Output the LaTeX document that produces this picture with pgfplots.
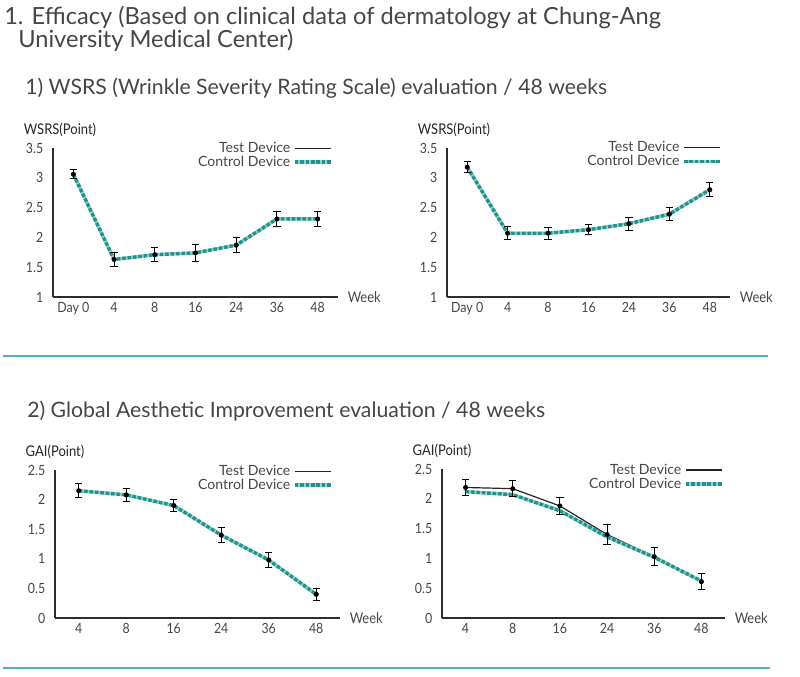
\documentclass[border=0pt]{standalone}
\usepackage{pgfplots}
\pgfplotsset{compat=1.18}
\usepackage{pgfplotstable}
\usepackage{fontspec}
\setmainfont{Lato}
\newfontfamily\condfont[FakeStretch=0.88]{Lato}
\newcommand{\pxu}{0.25mm}
\definecolor{txt}{RGB}{70,70,70}
\definecolor{axisgray}{RGB}{45,45,45}
\definecolor{ctrllight}{RGB}{140,210,205}
\definecolor{ctrldark}{RGB}{35,145,140}
\definecolor{sepline}{RGB}{85,178,188}

% WSRS left
\pgfplotstableread{
x y e
0 3.06 0.08
1 1.63 0.12
2 1.71 0.12
3 1.74 0.14
4 1.87 0.13
5 2.31 0.13
6 2.31 0.13
}\wsrsAtest
\pgfplotstableread{
x y
0 3.06
1 1.63
2 1.71
3 1.74
4 1.87
5 2.31
6 2.31
}\wsrsActrl
% WSRS right
\pgfplotstableread{
x y e
0 3.18 0.09
1 2.07 0.11
2 2.07 0.10
3 2.13 0.08
4 2.23 0.11
5 2.39 0.11
6 2.80 0.12
}\wsrsBtest
\pgfplotstableread{
x y
0 3.18
1 2.07
2 2.07
3 2.13
4 2.23
5 2.39
6 2.80
}\wsrsBctrl
% GAI left
\pgfplotstableread{
x y e
0 2.15 0.12
1 2.08 0.11
2 1.90 0.10
3 1.40 0.13
4 0.98 0.13
5 0.40 0.10
}\gaiAtest
\pgfplotstableread{
x y
0 2.15
1 2.08
2 1.90
3 1.40
4 0.98
5 0.40
}\gaiActrl
% GAI right
\pgfplotstableread{
x y e
0 2.19 0.14
1 2.17 0.13
2 1.88 0.14
3 1.40 0.17
4 1.03 0.15
5 0.61 0.14
}\gaiBtest
\pgfplotstableread{
x y
0 2.12
1 2.07
2 1.80
3 1.36
4 1.02
5 0.62
}\gaiBctrl

\tikzset{
  testline/.style={black!85, line width=0.3mm},
  ctrlunder/.style={ctrllight, line width=0.85mm},
  ctrlover/.style={ctrldark, line width=0.85mm, dash pattern=on 0.9mm off 0.45mm},
}
\pgfplotsset{
  testmarks/.style={only marks, mark=*, mark size=0.55mm, black,
    error bars/.cd, y dir=both, y explicit,
    error bar style={line width=0.25mm, black},
    error mark options={rotate=90, mark size=0.9mm, line width=0.25mm, black}},
  ctrllegend/.style={legend image code/.code={\draw[ctrlunder] (0cm,0cm)--(0.9cm,0cm); \draw[ctrlover] (0cm,0cm)--(0.9cm,0cm);}},
  panel/.style={
    scale only axis,
    axis lines=left,
    axis line style={line width=0.5mm, draw=axisgray, -},
    major tick length=0pt,
    tick style={draw=none},
    clip=false,
    ticklabel style={font=\condfont\fontsize{10}{11}\selectfont, text=txt},
    yticklabel style={xshift=-1.2mm},
    /pgf/number format/assume math mode=true,
    xlabel={Week},
    every axis x label/.style={at={(axis description cs:1,0)}, anchor=west, xshift=1.2mm,
      font=\condfont\fontsize{10.5}{11}\selectfont, text=txt},
    every axis y label/.style={at={(axis description cs:0,1)}, anchor=center, yshift=4.5mm,
      font=\condfont\fontsize{10.5}{11}\selectfont, text=black!85},
    legend image code/.code={\draw[##1] (0cm,0cm) -- (0.9cm,0cm);},
    legend cell align=right,
    legend plot pos=right,
    legend style={draw=none, fill=none, anchor=north east, font=\fontsize{10}{11}\selectfont,
      text=txt, inner sep=0pt, row sep=-3pt},
  },
}

\begin{document}
\begin{tikzpicture}
\begin{scope}[x=\pxu, y=-\pxu]
\useasboundingbox (0,0) rectangle (800,677);
\node[anchor=base west, inner sep=0pt, text=txt, font=\fontsize{16.8}{18}\selectfont] at (4,25) {1. Efficacy (Based on clinical data of dermatology at Chung-Ang};
\node[anchor=base west, inner sep=0pt, text=txt, font=\fontsize{16.8}{18}\selectfont] at (18,48) {University Medical Center)};
\node[anchor=base west, inner sep=0pt, text=txt, font=\fontsize{15.1}{17}\selectfont] at (25,95) {1) WSRS (Wrinkle Severity Rating Scale) evaluation / 48 weeks};
\node[anchor=base west, inner sep=0pt, text=txt, font=\fontsize{15.1}{17}\selectfont] at (27,418) {2) Global Aesthetic Improvement evaluation / 48 weeks};
\draw[sepline, line width=0.45mm] (3,356) -- (768,356);
\draw[sepline, line width=0.45mm] (3,668) -- (770,668);
\end{scope}

% Panel 1
\begin{axis}[panel, at={({53*\pxu},{-297*\pxu})}, anchor=south west,
  width={285*\pxu}, height={149*\pxu},
  xmin=-0.5, xmax=6.5, ymin=1, ymax=3.5,
  xtick={0,1,2,3,4,5,6}, xticklabels={Day 0,4,8,16,24,36,48},
  ytick={1,1.5,2,2.5,3,3.5},
  ylabel={WSRS(Point)}, every axis y label/.append style={xshift=1.75mm},
  legend style={at={(axis description cs:0.982,1.06)}}]
\addplot[forget plot, testline, no marks] table[x=x,y=y]{\wsrsAtest};
\addplot[forget plot, ctrlunder, no marks] table[x=x,y=y]{\wsrsActrl};
\addplot[forget plot, ctrlover, no marks] table[x=x,y=y]{\wsrsActrl};
\addplot[forget plot, testmarks] table[x=x,y=y,y error=e]{\wsrsAtest};
\addlegendimage{testline}
\addlegendimage{ctrllegend}
\legend{Test Device, Control Device}
\end{axis}

% Panel 2
\begin{axis}[panel, at={({447*\pxu},{-297*\pxu})}, anchor=south west,
  width={283*\pxu}, height={149*\pxu},
  xmin=-0.5, xmax=6.5, ymin=1, ymax=3.5,
  xtick={0,1,2,3,4,5,6}, xticklabels={Day 0,4,8,16,24,36,48},
  ytick={1,1.5,2,2.5,3,3.5},
  ylabel={WSRS(Point)}, every axis y label/.append style={xshift=1.75mm},
  legend style={at={(axis description cs:0.972,1.065)}}]
\addplot[forget plot, testline, no marks] table[x=x,y=y]{\wsrsBtest};
\addplot[forget plot, ctrlunder, no marks] table[x=x,y=y]{\wsrsBctrl};
\addplot[forget plot, ctrlover, no marks] table[x=x,y=y]{\wsrsBctrl};
\addplot[forget plot, testmarks] table[x=x,y=y,y error=e]{\wsrsBtest};
\addlegendimage{testline}
\addlegendimage{ctrllegend}
\legend{Test Device, Control Device}
\end{axis}

% Panel 3
\begin{axis}[panel, at={({55*\pxu},{-618*\pxu})}, anchor=south west,
  width={285*\pxu}, height={148*\pxu},
  xmin=-0.5, xmax=5.5, ymin=0, ymax=2.5,
  xtick={0,1,2,3,4,5}, xticklabels={4,8,16,24,36,48},
  ytick={0,0.5,1,1.5,2,2.5},
  ylabel={GAI(Point)},
  legend style={at={(axis description cs:0.975,1.055)}}]
\addplot[forget plot, testline, no marks] table[x=x,y=y]{\gaiAtest};
\addplot[forget plot, ctrlunder, no marks] table[x=x,y=y]{\gaiActrl};
\addplot[forget plot, ctrlover, no marks] table[x=x,y=y]{\gaiActrl};
\addplot[forget plot, testmarks] table[x=x,y=y,y error=e]{\gaiAtest};
\addlegendimage{testline}
\addlegendimage{ctrllegend}
\legend{Test Device, Control Device}
\end{axis}

% Panel 4
\begin{axis}[panel, at={({442*\pxu},{-618*\pxu})}, anchor=south west,
  width={283*\pxu}, height={149*\pxu},
  xmin=-0.5, xmax=5.5, ymin=0, ymax=2.5,
  xtick={0,1,2,3,4,5}, xticklabels={4,8,16,24,36,48},
  ytick={0,0.5,1,1.5,2,2.5},
  ylabel={GAI(Point)},
  legend style={at={(axis description cs:0.996,1.055)}}]
\addplot[forget plot, testline, no marks] table[x=x,y=y]{\gaiBtest};
\addplot[forget plot, ctrlunder, no marks] table[x=x,y=y]{\gaiBctrl};
\addplot[forget plot, ctrlover, no marks] table[x=x,y=y]{\gaiBctrl};
\addplot[forget plot, testmarks] table[x=x,y=y,y error=e]{\gaiBtest};
\addlegendimage{testline}
\addlegendimage{ctrllegend}
\legend{Test Device, Control Device}
\end{axis}
\end{tikzpicture}
\end{document}
